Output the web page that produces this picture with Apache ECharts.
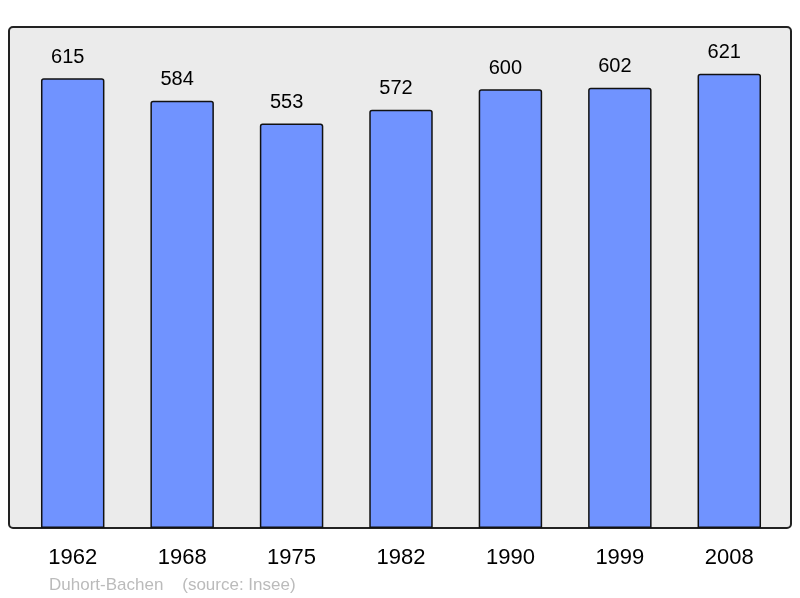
<!DOCTYPE html>
<html>
<head>
<meta charset="utf-8">
<script src="https://cdn.jsdelivr.net/npm/echarts@6/dist/echarts.min.js"></script>
<style>
  html, body { margin: 0; padding: 0; background: #fff; }
  #chart { width: 800px; height: 598px; }
</style>
</head>
<body>
<div id="chart"></div>
<script>
const years = ['1962', '1968', '1975', '1982', '1990', '1999', '2008']
const population = [615, 584, 553, 572, 600, 602, 621]
const credit = 'Duhort-Bachen    (source: Insee)'

const chart = echarts.init(document.getElementById('chart'))

const option = {
  animation: false,
  textStyle: { fontFamily: 'Liberation Sans, Arial, sans-serif' },
  graphic: [
    {
      type: 'rect',
      z: -10,
      shape: { x: 9, y: 27, width: 782, height: 501, r: 4 },
      style: { fill: '#ebebeb', stroke: '#222', lineWidth: 2 }
    },
    {
      type: 'text',
      left: 49,
      top: 577,
      style: {
        text: credit,
        fill: '#bbbbbb',
        font: '17px "Liberation Sans", Arial, sans-serif'
      }
    }
  ],
  grid: {
    left: 18,
    right: 16,
    top: 27,
    bottom: 70
  },
  xAxis: {
    type: 'category',
    data: years,
    axisLine: { show: false },
    axisTick: { show: false },
    axisLabel: {
      color: '#000',
      fontSize: 22,
      margin: 19
    }
  },
  yAxis: {
    type: 'value',
    min: 0,
    max: 685,
    show: false,
    splitLine: { show: false }
  },
  series: [{
    type: 'bar',
    data: population,
    barWidth: '58%',
    itemStyle: {
      color: '#7093ff',
      borderColor: '#111',
      borderWidth: 1.5,
      borderRadius: [2, 2, 0, 0]
    },
    label: {
      show: true,
      position: 'top',
      distance: 11,
      offset: [-5, 0],
      color: '#000',
      fontSize: 20
    }
  }]
}

chart.setOption(option)
</script>
</body>
</html>
